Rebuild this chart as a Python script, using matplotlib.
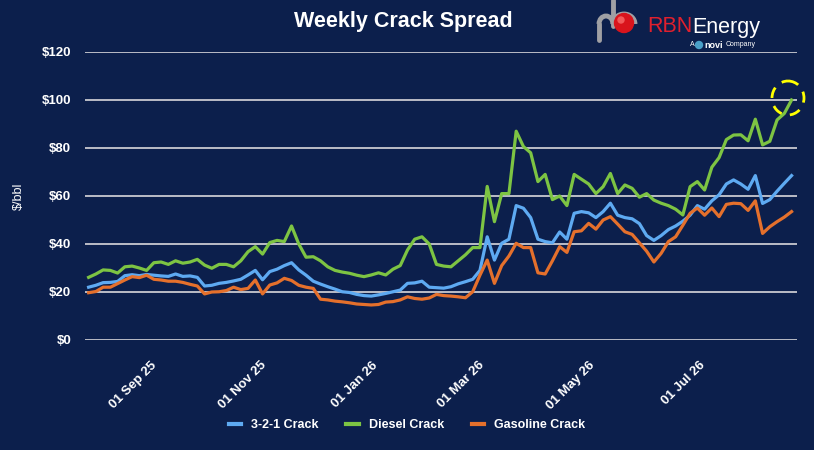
import matplotlib.pyplot as plt
import matplotlib.dates as mdates
import matplotlib.transforms as mtransforms
from matplotlib.patches import Ellipse, Arc, Circle
import pandas as pd

# values, one point every 4 days
start_date = '2025-07-29'
crack_321 = [22, 22.8, 23.9, 24, 24.4, 26.8, 27.2, 26.8, 27.3, 27,
             26.7, 26.5, 27.5, 26.5, 26.7, 26.1, 22.5, 22.8, 23.6, 24,
             24.6, 25.3, 27.1, 29, 25.1, 28.5, 29.5, 31, 32.2, 29.2,
             27, 24.5, 23.3, 22.2, 21.2, 20.1, 19.8, 19, 18.5, 18.3,
             18.8, 19.4, 20.1, 20.8, 23.6, 23.8, 24.5, 22, 21.8, 21.6,
             22.2, 23.4, 24.3, 25.3, 29, 43, 33.3, 40.3, 42, 56,
             54.9, 51, 42, 41, 40.5, 45, 42, 52.8, 53.5, 53,
             51, 53.5, 57, 52, 51, 50.5, 48.5, 43.5, 41.5, 43.5,
             46, 47.5, 49.5, 52, 56, 54.5, 58, 60.5, 65, 66.7,
             65, 62.8, 68.5, 56.9, 58.5, 62, 65.3, 68.5]
diesel = [26.1, 27.5, 29.2, 29, 27.9, 30.5, 30.8, 30, 29, 32.2,
          32.5, 31.5, 33, 32, 32.5, 33.6, 31.2, 29.9, 31.5, 31.5,
          30.5, 33, 36.8, 38.9, 35.8, 40.6, 41.5, 41, 47.5, 40,
          34.5, 34.7, 33, 30.5, 29, 28.3, 27.8, 27, 26.4, 27.1,
          28, 27.1, 29.5, 31, 37.5, 42, 43, 40, 31.5, 30.8,
          30.5, 33, 35.5, 38.5, 38.5, 64, 49.3, 61, 61, 87,
          80.6, 78, 66, 69, 58.5, 60, 56, 69, 67, 65,
          61, 63.9, 69.4, 61, 64.6, 63.2, 59.5, 61, 58.3, 57,
          56, 54.5, 52.1, 63.9, 66, 62.5, 72, 76, 83.5, 85.4,
          85.5, 83, 92, 81.3, 82.8, 91.7, 94.4, 100]
gasoline = [19.7, 20.2, 22, 22, 23.5, 25, 26.4, 26, 27, 25.3,
            25, 24.5, 24.5, 24, 23.2, 22.5, 19.2, 20, 20.1, 20.6,
            22, 21, 21.5, 25, 19.2, 22.9, 23.8, 25.7, 24.8, 22.8,
            22, 21.5, 17, 16.7, 16.2, 15.9, 15.5, 15, 14.8, 14.6,
            14.8, 15.8, 16, 16.7, 18, 17.3, 17, 17.5, 19, 18.5,
            18.3, 18, 17.6, 20.1, 27, 33.3, 23.6, 31, 35, 40.3,
            38.5, 38.5, 28, 27.5, 33, 38.9, 36.5, 45.1, 45.5, 48.6,
            46.2, 50, 51.4, 48.3, 45.1, 44, 40.5, 37, 32.5, 36.1,
            41, 43, 47.8, 52.8, 55, 52, 55, 51.4, 56.5, 57,
            56.8, 54, 58, 44.4, 47.2, 49.3, 51.2, 53.5]
series_names = ['3-2-1 Crack', 'Diesel Crack', 'Gasoline Crack']
series_colors = ['#5eaaf2', '#7dc443', '#e5702c']
y_ticks = [0, 20, 40, 60, 80, 100, 120]

dates = pd.date_range(start_date, periods=len(diesel), freq='4D')

bg = '#0c1f4c'
plt.rcParams['font.family'] = ['Liberation Sans', 'DejaVu Sans']

fig = plt.figure(figsize=(8.14, 4.5), dpi=100, facecolor=bg)
ax = fig.add_axes([85 / 814, 110 / 450, 712 / 814, 288 / 450], facecolor=bg)

for vals, name, col in zip([crack_321, diesel, gasoline], series_names, series_colors):
    ax.plot(dates, vals, color=col, lw=2.3, label=name, zorder=3)

ax.set_ylim(0, 120)
ax.set_xlim(pd.Timestamp('2025-07-27'), pd.Timestamp('2026-08-24'))
ax.set_yticks(y_ticks)
ax.set_yticklabels(['$%d' % v for v in y_ticks], color='white', fontweight='bold', fontsize=9.5)
for v in y_ticks:
    ax.axhline(v, color='#c9c9d0', lw=1.3 if v else 2, zorder=1)

ax.xaxis.set_major_locator(mdates.MonthLocator(bymonth=[1, 3, 5, 7, 9, 11]))
ax.xaxis.set_major_formatter(mdates.DateFormatter('%d %b %y'))
shift = mtransforms.ScaledTranslation(-6 / 100, 0, fig.dpi_scale_trans)
for lab in ax.get_xticklabels():
    lab.set_transform(lab.get_transform() + shift)
plt.setp(ax.get_xticklabels(), rotation=45, ha='right', rotation_mode='anchor',
         color='white', fontweight='bold', fontsize=9.5)
ax.tick_params(axis='x', length=0, pad=14)
ax.tick_params(axis='y', length=0, pad=10)
for s in ax.spines.values():
    s.set_visible(False)

ax.set_ylabel('$/bbl', color='white', fontsize=9, labelpad=12)

fig.text(403 / 814, 1 - 22 / 450, 'Weekly Crack Spread', color='white', fontsize=15.5,
         fontweight='bold', ha='center', va='center')

# overlay in pixel units for the logo and the highlight ring
ov = fig.add_axes([0, 0, 1, 1], facecolor='none')
ov.set_xlim(0, 814)
ov.set_ylim(450, 0)
ov.axis('off')

gray = '#a0a0a4'
ov.plot([599, 599], [40, 24], color=gray, lw=3.5, solid_capstyle='round')
ov.add_patch(Arc((606, 24), 14, 16, theta1=180, theta2=360, color=gray, lw=3.5))
ov.plot([613, 613], [0, 26], color=gray, lw=3.5, solid_capstyle='round')
ov.add_patch(Arc((624, 24), 22, 20, theta1=180, theta2=360, color=gray, lw=3.5))
ov.add_patch(Circle((624, 23), 9.5, color='#d9141c', zorder=5))
ov.add_patch(Circle((621, 20), 3, color='#f25a5a', zorder=6))

ov.text(647, 27, 'RBN', color='#e0202e', fontsize=15.5, ha='left', va='center')
ov.text(692, 27, 'Energy', color='white', fontsize=15.5, ha='left', va='center')
ov.text(690, 45, 'A', color='white', fontsize=5, ha='left', va='center')
ov.add_patch(Circle((699, 45), 3.5, color='#4aa0c8'))
ov.text(704, 45, 'novi', color='white', fontsize=6.5, fontweight='bold', ha='left', va='center')
ov.text(726, 45, 'Company', color='white', fontsize=5, ha='left', va='center')

ov.add_patch(Ellipse((788, 98), 32, 34, fill=False, ec='#ffff00',
                     lw=2, ls=(0, (4, 3)), zorder=6))

leg = fig.legend(loc='center', bbox_to_anchor=(0.5, 1 - 425 / 450), ncol=3, frameon=False,
                 handlelength=1.0, columnspacing=2.2, prop={'weight': 'bold', 'size': 9})
for t in leg.get_texts():
    t.set_color('white')
for h in leg.get_lines():
    h.set_linewidth(3)

fig.savefig('out.png', dpi=100, facecolor=bg)
